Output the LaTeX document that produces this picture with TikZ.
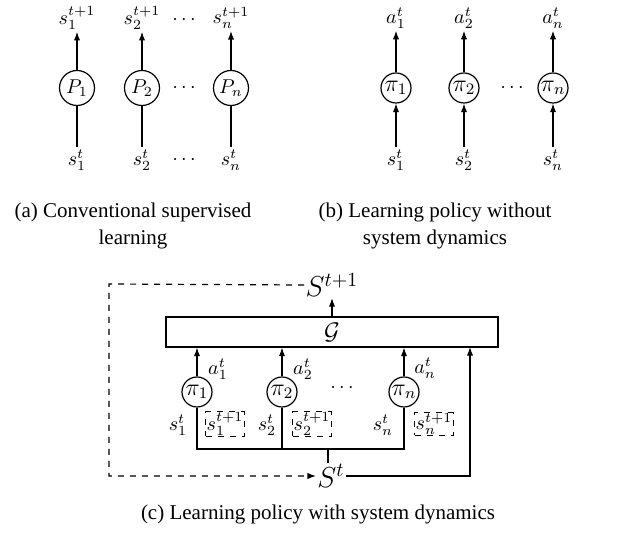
\documentclass[tikz,border=0pt]{standalone}
\usepackage{fontspec}
\setmainfont{Liberation Serif}
\usepackage{tikz}
\usetikzlibrary{arrows.meta, positioning, calc}

\begin{document}
\begin{tikzpicture}[
    x=0.5pt, y=-0.5pt,
    pnode/.style={circle, draw, line width=0.6pt, inner sep=0pt, minimum size=17.5pt},
    pinode/.style={circle, draw, line width=0.6pt, inner sep=0pt, minimum size=15pt, font=\large},
    lbl/.style={inner sep=1pt},
    sbox/.style={draw, dashed, line width=0.5pt, inner sep=0.4pt},
    bigS/.style={inner sep=0.5pt, font=\fontsize{14}{16}\selectfont},
    ln/.style={line width=0.6pt},
    arr/.style={-{Latex[length=1.5mm, width=1.1mm]}, line width=0.6pt},
    captext/.style={align=center, font=\fontsize{10.5}{13.6}\selectfont}
  ]
    \useasboundingbox (0,0) rectangle (634,533);

    % (a) conventional supervised learning
    \node[pnode] (p1) at (77,88) {$P_1$};
    \node[pnode] (p2) at (142,88) {$P_2$};
    \node[pnode] (pn) at (231,88) {$P_n$};
    \node[lbl] (ps1) at (77,160) {$s_1^t$};
    \node[lbl] (ps2) at (142,160) {$s_2^t$};
    \node[lbl] (psn) at (231,160) {$s_n^t$};
    \node[lbl] (pt1) at (77,18) {$s_1^{t+1}$};
    \node[lbl] (pt2) at (142,18) {$s_2^{t+1}$};
    \node[lbl] (ptn) at (231,18) {$s_n^{t+1}$};
    \node (pd1) at (184,20) {$\cdots$};
    \node (pd2) at (184,88) {$\cdots$};
    \node (pd3) at (184,160) {$\cdots$};
    \draw[ln] (ps1) -- (p1);
    \draw[ln] (ps2) -- (p2);
    \draw[ln] (psn) -- (pn);
    \draw[arr] (p1) -- (pt1);
    \draw[arr] (p2) -- (pt2);
    \draw[arr] (pn) -- (ptn);
    \node[captext] (capa) at (133,226) {(a) Conventional supervised\\learning};

    % (b) policy without system dynamics
    \node[pinode] (b1) at (396,88) {$\pi_1$};
    \node[pinode] (b2) at (464,88) {$\pi_2$};
    \node[pinode] (bn) at (553,88) {$\pi_n$};
    \node[lbl] (bs1) at (396,160) {$s_1^t$};
    \node[lbl] (bs2) at (464,160) {$s_2^t$};
    \node[lbl] (bsn) at (553,160) {$s_n^t$};
    \node[lbl] (ba1) at (396,18) {$a_1^t$};
    \node[lbl] (ba2) at (464,18) {$a_2^t$};
    \node[lbl] (ban) at (553,18) {$a_n^t$};
    \node (bd) at (512,88) {$\cdots$};
    \draw[arr] (bs1) -- (b1);
    \draw[arr] (bs2) -- (b2);
    \draw[arr] (bsn) -- (bn);
    \draw[arr] (b1) -- (ba1);
    \draw[arr] (b2) -- (ba2);
    \draw[arr] (bn) -- (ban);
    \node[captext] (capb) at (435,226) {(b) Learning policy without\\system dynamics};

    % (c) policy with system dynamics
    \node[draw, line width=0.6pt, minimum width=166pt, minimum height=15pt, inner sep=0pt,
      font=\large] (gbox) at (332,332) {$\mathcal{G}$};
    \node[bigS] (snext) at (332,285) {$S^{t+1}$};
    \draw[arr] (gbox) -- (snext);
    \node[pinode] (c1) at (197,392) {$\pi_1$};
    \node[pinode] (c2) at (282,392) {$\pi_2$};
    \node[pinode] (cn) at (404,392) {$\pi_n$};
    \node (cd) at (342,388) {$\cdots$};
    \draw[arr] (c1) -- (c1 |- gbox.south);
    \draw[arr] (c2) -- (c2 |- gbox.south);
    \draw[arr] (cn) -- (cn |- gbox.south);
    \node[lbl] (ca1) at (218,369) {$a_1^t$};
    \node[lbl] (ca2) at (303,369) {$a_2^t$};
    \node[lbl] (can) at (425,368) {$a_n^t$};
    \node[lbl] (cs1) at (178,425) {$s_1^t$};
    \node[lbl] (cs2) at (267,425) {$s_2^t$};
    \node[lbl] (csn) at (383,425) {$s_n^t$};
    \node[sbox] (sb1) at (225,424) {$s_1^{t+1}$};
    \node[sbox] (sb2) at (312,424) {$s_2^{t+1}$};
    \node[sbox] (sbn) at (434,424) {$s_n^{t+1}$};
    \node[bigS] (st) at (331,476) {$S^t$};
    \coordinate (join) at (328,449);
    \coordinate (lcorner) at (109,284);
    \coordinate (gin) at (470,347);
    \draw[ln] (c1) |- (join);
    \draw[ln] (c2) |- (join);
    \draw[ln] (cn) |- (join);
    \draw[ln] (join) -- (join |- st.north);
    \draw[arr, dashed] (snext.west) -- (lcorner) |- (st.west);
    \draw[arr] (st.east) -| (gin);
    \node[captext] (capc) at (318,514) {(c) Learning policy with system dynamics};
  \end{tikzpicture}
\end{document}
